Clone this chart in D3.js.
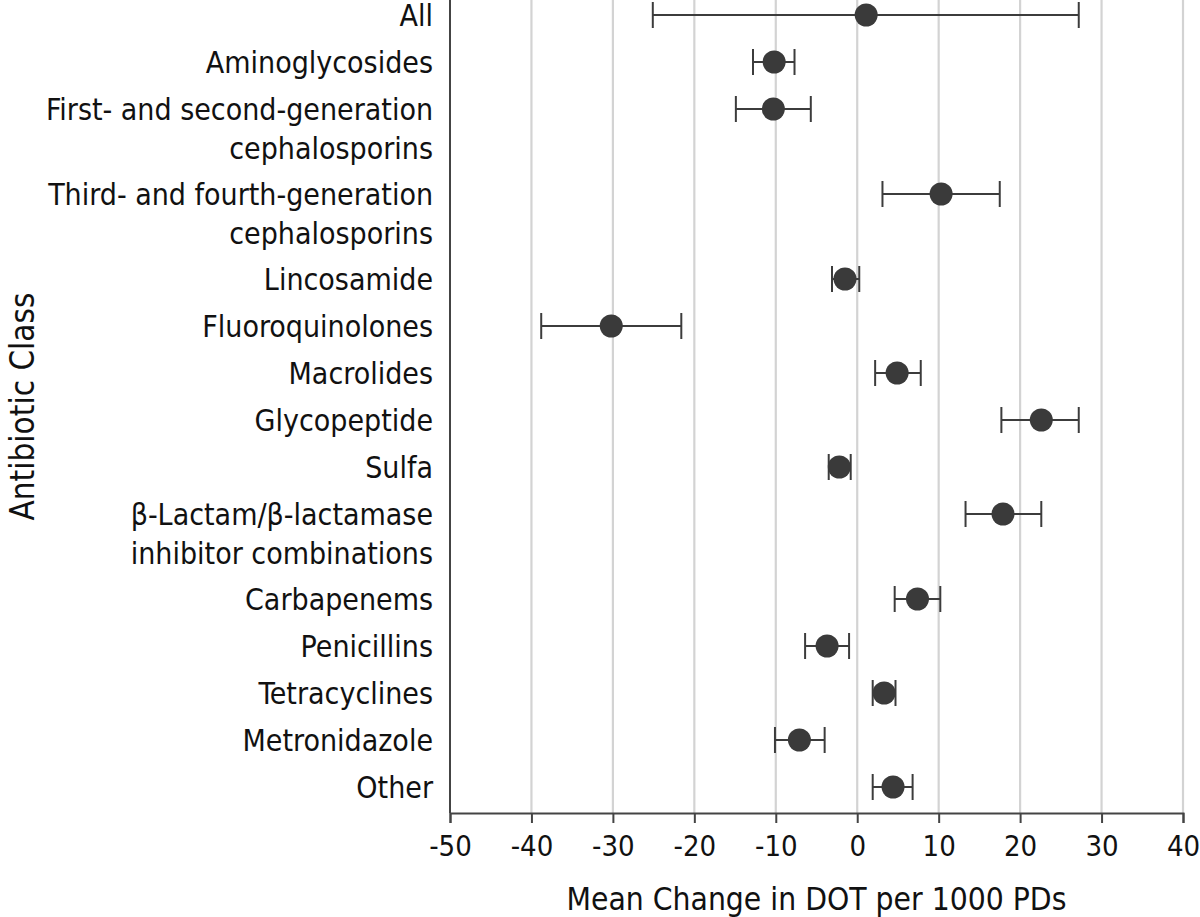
<!DOCTYPE html>
<html>
<head>
<meta charset="utf-8">
<script src="https://cdn.jsdelivr.net/npm/d3@7"></script>
<style>
	html, body { margin: 0; padding: 0; background: #fff; }
	svg text { font-family: "DejaVu Sans Condensed", "DejaVu Sans", sans-serif; font-stretch: condensed; fill: #111; }
</style>
</head>
<body>
<div id="chart"></div>
<script>
// categories (lines of each label), mean and 95% CI
const categories = [
	['All'],
	['Aminoglycosides'],
	['First- and second-generation', 'cephalosporins'],
	['Third- and fourth-generation', 'cephalosporins'],
	['Lincosamide'],
	['Fluoroquinolones'],
	['Macrolides'],
	['Glycopeptide'],
	['Sulfa'],
	['\u03B2-Lactam/\u03B2-lactamase', 'inhibitor combinations'],
	['Carbapenems'],
	['Penicillins'],
	['Tetracyclines'],
	['Metronidazole'],
	['Other']
];
const meanChange = [1.1, -10.2, -10.3, 10.3, -1.5, -30.2, 4.9, 22.6, -2.2, 17.9, 7.4, -3.7, 3.3, -7.1, 4.4];
const lowerCI = [-25.1, -12.8, -14.9, 3.1, -3.1, -38.8, 2.2, 17.7, -3.5, 13.3, 4.6, -6.4, 1.9, -10.1, 1.9];
const upperCI = [27.2, -7.7, -5.7, 17.5, 0.25, -21.6, 7.8, 27.2, -0.8, 22.6, 10.2, -1.0, 4.7, -4.0, 6.8];
const xTicks = [-50, -40, -30, -20, -10, 0, 10, 20, 30, 40];

const options = {
	w: 1200,
	h: 917,
	mLeft: 450,
	mRight: 17,
	axisY: 813,
	rowStep: 47,
	lineStep: 38,
	fontSize: 30
};

// cumulative row offsets: wrapped labels take extra room
const offsets = [];
categories.reduce((acc, lines) => {
	offsets.push(acc);
	return acc + options.rowStep + options.lineStep * (lines.length - 1);
}, 0);

const svg = d3.select('#chart').append('svg')
	.attr('width', options.w)
	.attr('height', options.h);

const x = d3.scaleLinear().domain([-50, 40]).range([options.mLeft, options.w - options.mRight]);
const y = d3.scaleLinear().domain([0, offsets[offsets.length - 1]]).range([15, 787]);

// gridlines
svg.append('g')
	.selectAll('line')
	.data(xTicks.slice(1))
	.enter()
	.append('line')
	.attr('x1', d => x(d)).attr('x2', d => x(d))
	.attr('y1', 0).attr('y2', options.axisY)
	.attr('stroke', '#d3d3d3')
	.attr('stroke-width', 2.2);

// x axis
const xAxis = svg.append('g')
	.attr('transform', 'translate(0,' + options.axisY + ')')
	.call(d3.axisBottom(x).tickValues(xTicks).tickSize(10).tickPadding(12).tickFormat(d => d < 0 ? '-' + Math.abs(d) : d));
xAxis.select('.domain').attr('stroke', '#444').attr('stroke-width', 2);
xAxis.selectAll('.tick line').attr('stroke', '#444').attr('stroke-width', 2);
xAxis.selectAll('.tick text')
	.style('font-size', '29px')
	.attr('fill', '#111');

// y axis line
svg.append('line')
	.attr('x1', x(-50)).attr('x2', x(-50))
	.attr('y1', 0).attr('y2', options.axisY)
	.attr('stroke', '#444')
	.attr('stroke-width', 2);

// category labels
const labels = svg.append('g')
	.selectAll('text')
	.data(categories)
	.enter()
	.append('text')
	.attr('text-anchor', 'end')
	.style('font-size', options.fontSize + 'px')
	.attr('x', x(-50) - 17)
	.attr('y', (d, i) => y(offsets[i]));
labels.selectAll('tspan')
	.data(d => d)
	.enter()
	.append('tspan')
	.attr('x', x(-50) - 17)
	.attr('dy', (d, i) => i === 0 ? '0.36em' : 39)
	.text(d => d);

// error bars
const rows = svg.append('g')
	.selectAll('g')
	.data(meanChange)
	.enter()
	.append('g')
	.attr('transform', (d, i) => 'translate(0,' + y(offsets[i]) + ')');

rows.append('line')
	.attr('x1', (d, i) => x(lowerCI[i]))
	.attr('x2', (d, i) => x(upperCI[i]))
	.attr('stroke', '#3c3c3c')
	.attr('stroke-width', 2);

rows.selectAll('.cap')
	.data((d, i) => [lowerCI[i], upperCI[i]])
	.enter()
	.append('line')
	.attr('class', 'cap')
	.attr('x1', d => x(d)).attr('x2', d => x(d))
	.attr('y1', -13).attr('y2', 13)
	.attr('stroke', '#3c3c3c')
	.attr('stroke-width', 2);

rows.append('circle')
	.attr('cx', d => x(d))
	.attr('r', 11.5)
	.attr('fill', '#3a3a3a');

// axis titles
svg.append('text')
	.attr('x', (x(-50) + x(40)) / 2)
	.attr('y', 899)
	.attr('dy', '0.35em')
	.attr('text-anchor', 'middle')
	.style('font-size', '31.5px')
	.text('Mean Change in DOT per 1000 PDs');

svg.append('text')
	.attr('transform', 'translate(22,' + (options.axisY / 2) + ') rotate(-90)')
	.attr('dy', '0.35em')
	.attr('text-anchor', 'middle')
	.style('font-size', '33px')
	.text('Antibiotic Class');
</script>
</body>
</html>
